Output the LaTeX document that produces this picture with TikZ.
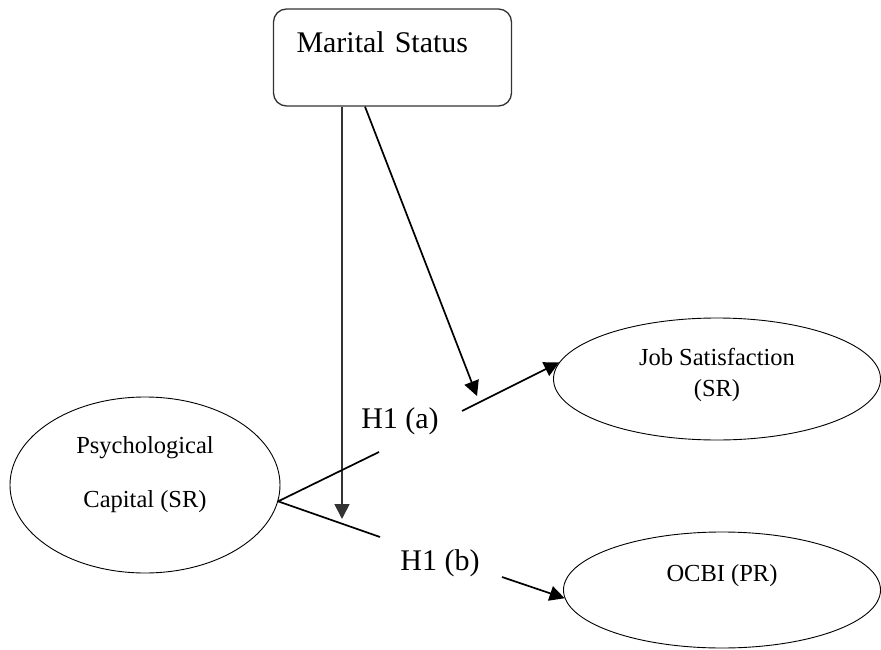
\documentclass[tikz,border=0pt]{standalone}
\usepackage{fontspec}
\setmainfont{Liberation Serif}
\usetikzlibrary{shapes.geometric,arrows.meta}

\begin{document}
\begin{tikzpicture}[x=1pt,y=-1pt]
    \useasboundingbox (0,0) rectangle (881,650);

    \begin{scope} [box style/.style={draw=black!80,
                                     line width=1.3pt,
                                     rounded corners=13pt,
                                     minimum width=238pt,
                                     minimum height=97pt,
                                     inner xsep=23pt,
                                     inner ysep=0pt,
                                     text width=192pt,
                                     align=left,
                                     font=\fontsize{30}{36}\selectfont},
                   oval style/.style={draw,
                                      ellipse,
                                      line width=0.9pt,
                                      inner sep=0pt,
                                      align=center,
                                      font=\fontsize{24.5}{29}\selectfont},
                   label style/.style={anchor=base,
                                       inner sep=0pt,
                                       font=\fontsize{30}{36}\selectfont}]
      \node[box style,text depth=31.5pt] (status) at (392.5,57.5) {Marital Status};
      \node[oval style,minimum width=270pt,minimum height=176pt,text depth=26.4pt]
        (psycap) at (145,485) {Psychological\\[25pt]Capital (SR)};
      \node[oval style,minimum width=327pt,minimum height=122pt,text depth=13.4pt]
        (jobsat) at (717,379) {Job Satisfaction\\[2pt](SR)};
      \node[oval style,minimum width=317pt,minimum height=116pt,text depth=34.4pt]
        (ocbi) at (722,590) {OCBI (PR)};
      \foreach \name/\x/\y/\part in {hypa/400/428/a, hypb/440/570/b}
        \node[label style] (\name) at (\x,\y) {H1 (\part)};
    \end{scope}

    \begin{scope} [edge style/.style={line width=1.7pt},
                   tip style/.style={-{Triangle[length=15pt,width=15pt]}}]
      \path (342,519) coordinate (down)
            (477,396) coordinate (slant)
            (379,452) coordinate (a1) (462,411) coordinate (a2)
            (380,537) coordinate (b1) (502,577) coordinate (b2);
      \draw[edge style,tip style,draw=black!80] (down |- status.south) -- (down);
      \draw[edge style,tip style] ([xshift=-27.5pt]status.south) -- (slant);
      \draw[edge style] (psycap.-7) -- (a1);
      \draw[edge style,tip style] (a2) -- (jobsat.174);
      \draw[edge style] (psycap.-7) -- (b1);
      \draw[edge style,tip style] (b2) -- (ocbi.183);
    \end{scope}

\end{tikzpicture}
\end{document}
